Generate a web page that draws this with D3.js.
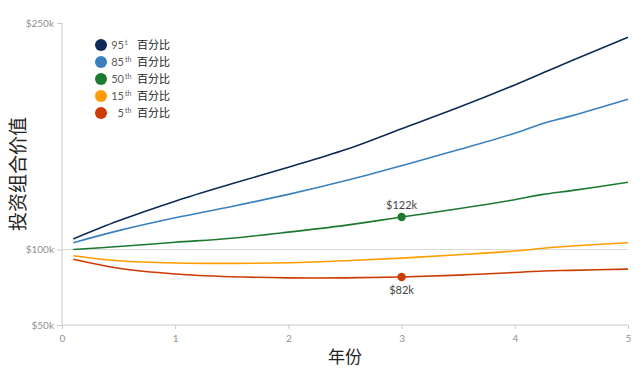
<!DOCTYPE html>
<html>
<head>
<meta charset="utf-8">
<script src="https://cdn.jsdelivr.net/npm/d3@7"></script>
<style>
  body { margin: 0; background: #fff; }
  svg text { font-family: Lato, "Noto Sans CJK SC", sans-serif; }
</style>
</head>
<body>
<div class="container"></div>
<script>
// years on the x axis
const years = [0.1, 0.5, 1, 1.5, 2, 2.5, 3, 3.5, 4, 4.25, 4.5, 5];

// portfolio value in $k
const p95 = [107, 119, 132, 143.5, 154.5, 166, 180, 194, 209, 217, 225, 240.5];
const p85 = [104.5, 112.5, 121, 128.5, 136.5, 145.5, 155.5, 166, 177, 183.5, 188.5, 199.5];
const p50 = [100, 102, 104.8, 107.5, 111.5, 116, 121.5, 127, 133, 136.5, 139, 144.5];
const p15 = [95.9, 92.6, 91.1, 90.8, 91.2, 92.5, 94.3, 96.5, 99, 100.8, 102.3, 104.5];
const p5  = [93.5, 87.6, 83.8, 82, 81.2, 81.2, 81.8, 83, 84.8, 85.8, 86.2, 87];

const legendNums = ['95', '85', '50', '15', '5'];
const legendSups = ['t', 'th', 'th', 'th', 'th'];
const legendText = '百分比';
const seriesColors = ['#0c2c55', '#3a80c0', '#1c7a30', '#ff9d00', '#cc3b00'];

const yTicks = [50, 100, 250];
const yTickLabels = ['$50k', '$100k', '$250k'];
const xTicks = [0, 1, 2, 3, 4, 5];

// highlighted points at year 3
const markYear = 3;
const mark50 = 121.5, mark5 = 81.8;
const mark50Label = '$122k', mark5Label = '$82k';

const xTitle = '年份';
const yTitle = '投资组合价值';

const series = [p95, p85, p50, p15, p5];

const width = 642, height = 374;
const margin = {top: 23, right: 14, bottom: 49, left: 62};

let x = d3.scaleLinear().domain([0, 5]).range([margin.left, width - margin.right]);
let y = d3.scaleLinear().domain([50, 250]).range([325, 23]);

let svg = d3.select('.container')
    .append('svg')
    .attr('width', width)
    .attr('height', height);

// 100k reference line
svg.append('line')
    .attr('x1', x(0)).attr('x2', x(5))
    .attr('y1', y(100)).attr('y2', y(100))
    .attr('stroke', '#d9d9d9')
    .attr('stroke-width', 1);

// y axis
let yAxis = d3.axisLeft(y).tickValues(yTicks)
    .tickFormat((d, i) => yTickLabels[i])
    .tickSize(5).tickPadding(3);
let gy = svg.append('g')
    .attr('transform', 'translate(' + margin.left + ',0)')
    .call(yAxis);
gy.select('.domain').attr('d', 'M0,' + y(250) + 'V' + (height - margin.bottom)).attr('stroke', '#c8c8c8');
gy.selectAll('.tick line').attr('stroke', '#c8c8c8');
gy.selectAll('.tick text').attr('fill', '#8f8f8f').style('font-size', '10px');

// x axis
let xAxis = d3.axisBottom(x).tickValues(xTicks).tickSize(4).tickPadding(6).tickFormat(d3.format('d'));
let gx = svg.append('g')
    .attr('transform', 'translate(0,' + (height - margin.bottom) + ')')
    .call(xAxis);
gx.select('.domain').attr('d', 'M' + x(0) + ',0H' + x(5)).attr('stroke', '#c8c8c8');
gx.selectAll('.tick line').attr('stroke', '#c8c8c8');
gx.selectAll('.tick text').attr('fill', '#8f8f8f').style('font-size', '10px');

// lines
let line = d3.line()
    .x((d, i) => x(years[i]))
    .y(d => y(d))
    .curve(d3.curveCatmullRom.alpha(0.5));

svg.selectAll('.series')
    .data(series.slice().reverse())
    .enter().append('path')
    .attr('class', 'series')
    .attr('d', d => line(d))
    .attr('fill', 'none')
    .attr('stroke', (d, i) => seriesColors[series.length - 1 - i])
    .attr('stroke-width', 1.6);

// marked points
svg.append('circle')
    .attr('cx', x(markYear)).attr('cy', y(mark50)).attr('r', 4.2)
    .attr('fill', seriesColors[2]);
svg.append('circle')
    .attr('cx', x(markYear)).attr('cy', y(mark5)).attr('r', 4.2)
    .attr('fill', seriesColors[4]);
svg.append('text')
    .attr('x', x(markYear)).attr('y', y(mark50) - 8)
    .attr('text-anchor', 'middle')
    .attr('fill', '#444')
    .style('font-size', '11px')
    .text(mark50Label);
svg.append('text')
    .attr('x', x(markYear)).attr('y', y(mark5) + 17)
    .attr('text-anchor', 'middle')
    .attr('fill', '#444')
    .style('font-size', '11px')
    .text(mark5Label);

// legend
let legend = svg.append('g');
legendNums.forEach((n, i) => {
    let ly = 45 + i * 17;
    legend.append('circle')
        .attr('cx', 101).attr('cy', ly).attr('r', 6)
        .attr('fill', seriesColors[i]);
    legend.append('text')
        .attr('x', 124).attr('y', ly + 4)
        .attr('text-anchor', 'end')
        .attr('fill', '#5a5a5a')
        .style('font-size', '11px')
        .text(n);
    legend.append('text')
        .attr('x', 125).attr('y', ly)
        .attr('fill', '#5a5a5a')
        .style('font-size', '7px')
        .text(legendSups[i]);
    legend.append('text')
        .attr('x', 137).attr('y', ly + 4)
        .attr('fill', '#222')
        .style('font-size', '11px')
        .text(legendText);
});

// axis titles
svg.append('text')
    .attr('x', (x(0) + x(5)) / 2).attr('y', 363)
    .attr('text-anchor', 'middle')
    .attr('fill', '#222')
    .style('font-size', '17px')
    .text(xTitle);
svg.append('text')
    .attr('transform', 'translate(25,' + ((y(250) + height - margin.bottom) / 2) + ') rotate(-90)')
    .attr('text-anchor', 'middle')
    .attr('fill', '#222')
    .style('font-size', '19px')
    .text(yTitle);
</script>
</body>
</html>
